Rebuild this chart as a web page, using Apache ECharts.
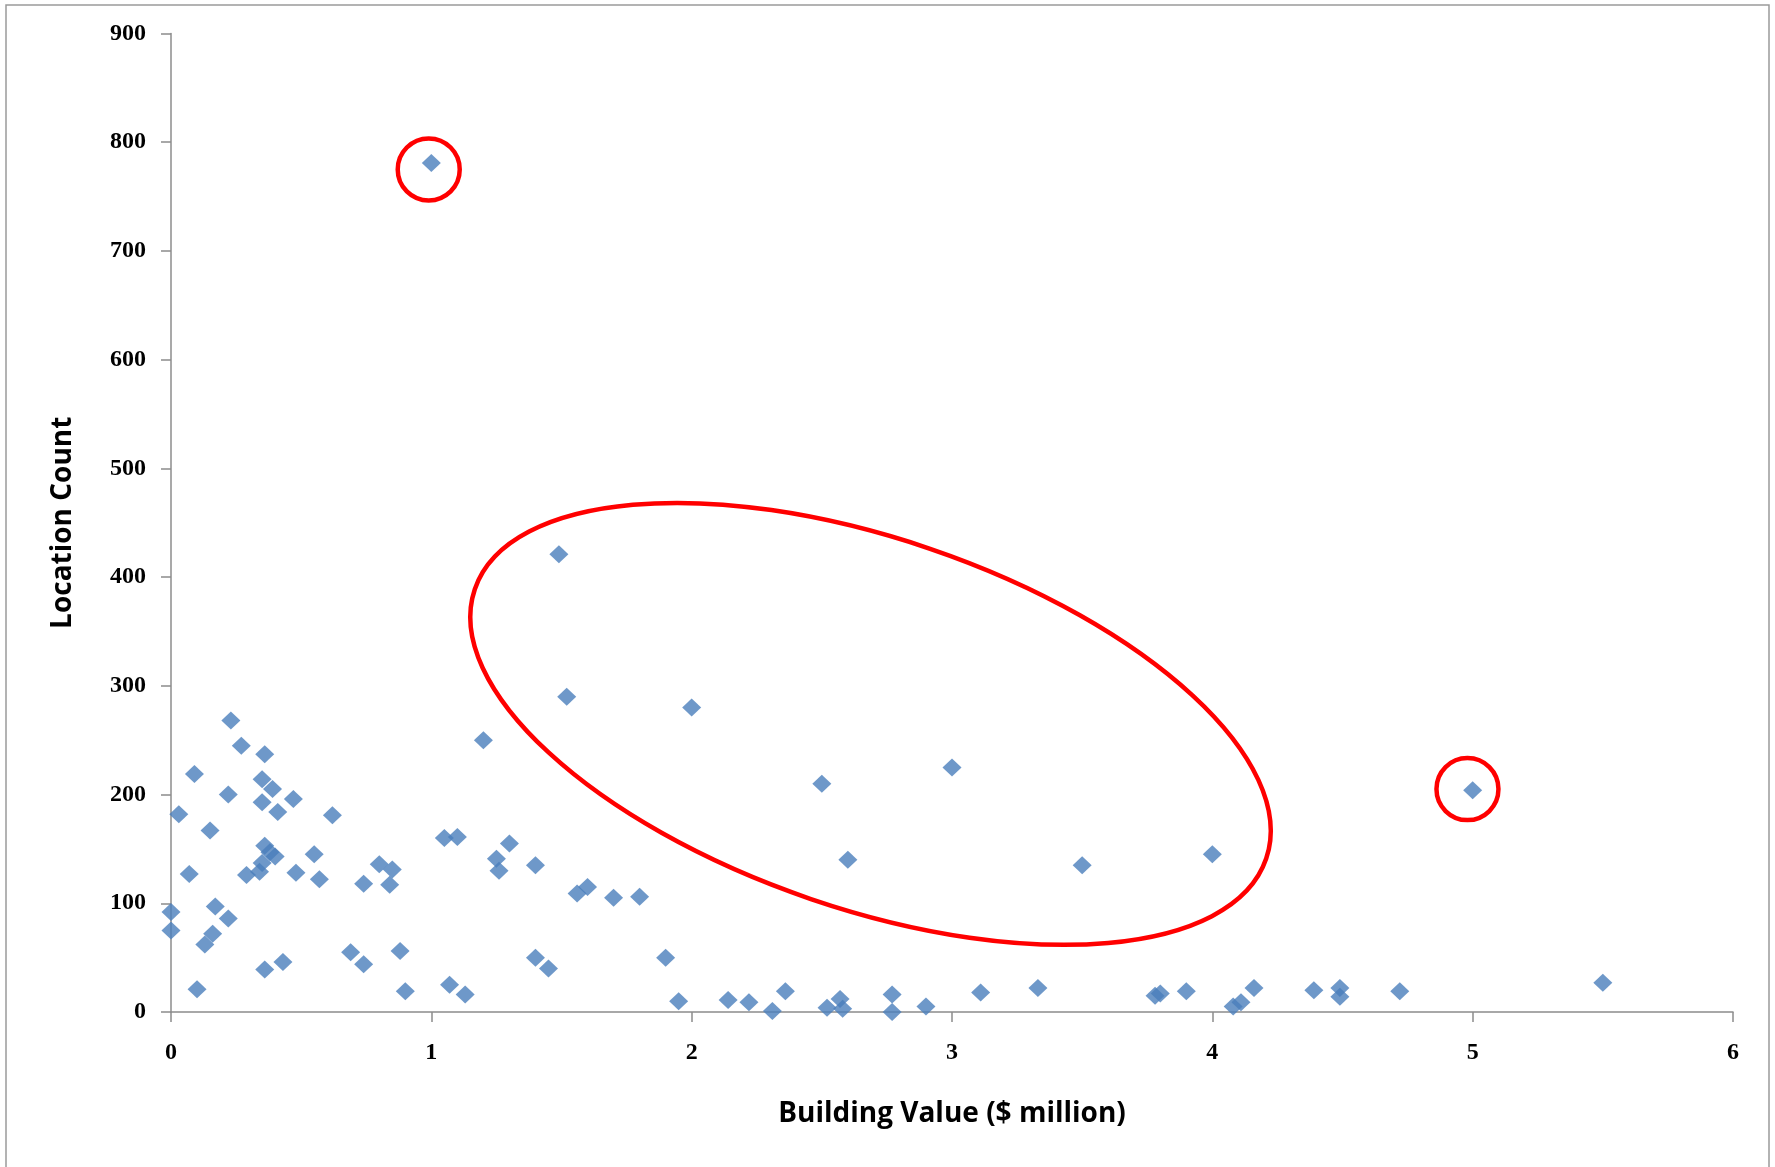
<!DOCTYPE html>
<html>
<head>
<meta charset="utf-8">
<script src="https://cdn.jsdelivr.net/npm/echarts@6/dist/echarts.min.js"></script>
<style>
html,body{margin:0;padding:0;background:#fff;}
#chart{width:1775px;height:1167px;}
</style>
</head>
<body>
<div id="chart"></div>
<script>
// Building value ($ million)
const buildingValue = [
  0.00, 0.00, 0.03, 0.07, 0.09, 0.10, 0.13, 0.15, 0.16, 0.17,
  0.22, 0.22, 0.23, 0.27, 0.29, 0.34, 0.35, 0.35, 0.35, 0.36,
  0.36, 0.36, 0.38, 0.40, 0.39, 0.41, 0.43, 0.47, 0.48, 0.55,
  0.57, 0.62, 0.69, 0.74, 0.74, 0.80, 0.84, 0.85, 0.88, 0.90,
  1.00, 1.05, 1.07, 1.10, 1.13, 1.20, 1.25, 1.26, 1.30, 1.40,
  1.40, 1.45, 1.49, 1.52, 1.56, 1.60, 1.70, 1.80, 1.90, 1.95,
  2.00, 2.14, 2.22, 2.31, 2.36, 2.50, 2.52, 2.57, 2.58, 2.60,
  2.77, 2.77, 2.90, 3.00, 3.11, 3.33, 3.50, 3.78, 3.80, 3.90,
  4.00, 4.08, 4.11, 4.16, 4.39, 4.49, 4.49, 4.72, 5.00, 5.50
];
// Location count
const locationCount = [
  75, 92, 182, 127, 219, 21, 62, 167, 72, 97,
  86, 200, 268, 245, 126, 129, 193, 137, 214, 237,
  39, 153, 147, 143, 205, 184, 46, 196, 128, 145,
  122, 181, 55, 118, 44, 136, 117, 131, 56, 19,
  781, 160, 25, 161, 16, 250, 141, 130, 155, 135,
  50, 40, 421, 290, 109, 115, 105, 106, 50, 10,
  280, 11, 9, 1, 19, 210, 4, 12, 3, 140,
  16, 0, 5, 225, 18, 22, 135, 15, 17, 19,
  145, 5, 9, 22, 20, 22, 14, 19, 204, 27
];
const xTicks = [0, 1, 2, 3, 4, 5, 6];
const yTicks = [0, 100, 200, 300, 400, 500, 600, 700, 800, 900];

// Annotation shapes (centre in data units, radii in px)
const circleNotes = [
  { x: 0.99, y: 775, r: 31 },
  { x: 4.98, y: 205, r: 31 }
];
const ellipseNote = { x: 2.687, y: 265, rx: 418, ry: 185, angleDeg: 18.8 };

const points = buildingValue.map((v, i) => [v, locationCount[i]]);

const chart = echarts.init(document.getElementById('chart'));
const tickFont = { fontFamily: 'Liberation Serif', fontWeight: 'bold', fontSize: 24, color: '#000' };
const titleFont = { fontFamily: 'Open Sans', fontWeight: 'bold', fontSize: 28, color: '#000' };
const axisGray = '#8c8c8c';

chart.setOption({
  backgroundColor: '#fff',
  animation: false,
  grid: { left: 171, right: 42, top: 33.5, bottom: 155, containLabel: false },
  xAxis: {
    type: 'value', min: xTicks[0], max: xTicks[xTicks.length - 1], interval: 1,
    axisLine: { show: true, lineStyle: { color: axisGray, width: 1.5 } },
    axisTick: { show: true, inside: false, length: 10, lineStyle: { color: axisGray, width: 1.5 } },
    splitLine: { show: false },
    axisLabel: Object.assign({ margin: 29 }, tickFont),
    name: 'Building Value ($ million)',
    nameLocation: 'middle', nameGap: 88,
    nameTextStyle: titleFont
  },
  yAxis: {
    type: 'value', min: yTicks[0], max: yTicks[yTicks.length - 1], interval: 100,
    axisLine: { show: true, lineStyle: { color: axisGray, width: 1.5 } },
    axisTick: { show: true, inside: false, length: 10, lineStyle: { color: axisGray, width: 1.5 } },
    splitLine: { show: false },
    axisLabel: Object.assign({ margin: 25 }, tickFont),
    name: 'Location Count',
    nameLocation: 'middle', nameGap: 94, nameRotate: 90,
    nameTextStyle: titleFont
  },
  series: [{
    type: 'scatter',
    symbol: 'diamond',
    symbolSize: [19, 18],
    itemStyle: { color: '#4a7ebb' },
    data: points
  }]
});

function drawNotes() {
  const els = [];
  els.push({
    type: 'rect', silent: true, z: 100,
    shape: { x: 6, y: 5, width: 1763, height: 1170 },
    style: { fill: null, stroke: '#9a9a9a', lineWidth: 1.5 }
  });
  circleNotes.forEach(c => {
    const p = chart.convertToPixel({ gridIndex: 0 }, [c.x, c.y]);
    els.push({
      type: 'circle', silent: true, z: 100,
      shape: { cx: p[0], cy: p[1], r: c.r },
      style: { fill: null, stroke: '#ff0000', lineWidth: 4.5 }
    });
  });
  const e = chart.convertToPixel({ gridIndex: 0 }, [ellipseNote.x, ellipseNote.y]);
  els.push({
    type: 'ellipse', silent: true, z: 100,
    x: e[0], y: e[1], originX: 0, originY: 0,
    rotation: -ellipseNote.angleDeg * Math.PI / 180,
    shape: { cx: 0, cy: 0, rx: ellipseNote.rx, ry: ellipseNote.ry },
    style: { fill: null, stroke: '#ff0000', lineWidth: 4.5 }
  });
  chart.setOption({ graphic: els });
}
drawNotes();
</script>
</body>
</html>
